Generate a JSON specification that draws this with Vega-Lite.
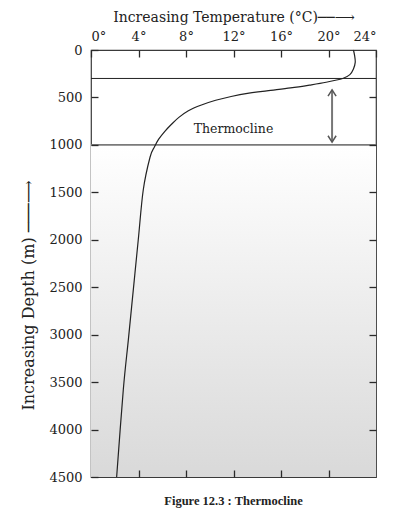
{
  "$schema": "https://vega.github.io/schema/vega-lite/v6.json",
  "width": 285,
  "height": 427,
  "autosize": {"type": "none"},
  "padding": {"left": 91, "top": 50, "right": 23, "bottom": 39},
  "background": "white",
  "config": {
    "view": {"stroke": "#3a3a3a", "strokeWidth": 1.2},
    "font": "DejaVu Serif",
    "axis": {"grid": false, "domain": false, "labelFont": "DejaVu Serif", "titleFont": "DejaVu Serif", "labelColor": "#222", "titleColor": "#222"}
  },
  "title": {"text": "Figure 12.3 : Thermocline", "orient": "bottom", "font": "Liberation Serif", "fontSize": 12.5, "fontWeight": "bold", "color": "#222", "offset": 11},
  "datasets": {
    "profile": [
      {"depth": 0, "temp": 22.1},
      {"depth": 60, "temp": 22.2},
      {"depth": 130, "temp": 22.25},
      {"depth": 200, "temp": 22.1},
      {"depth": 260, "temp": 21.8},
      {"depth": 300, "temp": 21.2},
      {"depth": 340, "temp": 19.8},
      {"depth": 370, "temp": 18.4},
      {"depth": 400, "temp": 16.8},
      {"depth": 430, "temp": 14.8},
      {"depth": 455, "temp": 13.3},
      {"depth": 490, "temp": 11.8},
      {"depth": 530, "temp": 10.5},
      {"depth": 580, "temp": 9.3},
      {"depth": 640, "temp": 8.2},
      {"depth": 710, "temp": 7.4},
      {"depth": 780, "temp": 6.8},
      {"depth": 860, "temp": 6.2},
      {"depth": 940, "temp": 5.7},
      {"depth": 1020, "temp": 5.35},
      {"depth": 1130, "temp": 4.97},
      {"depth": 1475, "temp": 4.4},
      {"depth": 2000, "temp": 3.98},
      {"depth": 2530, "temp": 3.56},
      {"depth": 3060, "temp": 3.14},
      {"depth": 3580, "temp": 2.72},
      {"depth": 4500, "temp": 2.16}
    ],
    "layers": [
      {"depth": 300, "kind": "mixed"},
      {"depth": 1000, "kind": "thermo"}
    ],
    "arrow": [
      {"temp": 20.3, "top": 420, "bottom": 970}
    ],
    "heads": [
      {"temp": 20.3, "depth": 420, "dir": "up"},
      {"temp": 20.3, "depth": 970, "dir": "down"}
    ],
    "label": [
      {"temp": 12, "depth": 830, "text": "Thermocline"}
    ],
    "deep": [
      {"top": 1000, "bottom": 4500}
    ]
  },
  "resolve": {"axis": {"x": "independent", "y": "independent"}},
  "layer": [
    {
      "data": {"name": "deep"},
      "mark": {"type": "rect", "color": {"gradient": "linear", "x1": 0, "y1": 0, "x2": 0, "y2": 1, "stops": [{"offset": 0, "color": "#ffffff"}, {"offset": 1, "color": "#d9d9d9"}]}},
      "encoding": {
        "y": {"field": "top", "type": "quantitative", "scale": {"domain": [0, 4500], "reverse": true, "nice": false}, "axis": null},
        "y2": {"field": "bottom"}
      }
    },
    {
      "data": {"name": "layers"},
      "mark": {"type": "rule"},
      "encoding": {
        "y": {"field": "depth", "type": "quantitative", "axis": null},
        "color": {"field": "kind", "type": "nominal", "scale": {"domain": ["mixed", "thermo"], "range": ["#222222", "#7a7a7a"]}, "legend": null},
        "strokeWidth": {"field": "kind", "type": "nominal", "scale": {"domain": ["mixed", "thermo"], "range": [1, 1.6]}, "legend": null}
      }
    },
    {
      "data": {"name": "profile"},
      "mark": {"type": "line", "color": "#222", "strokeWidth": 1.2, "interpolate": "cardinal"},
      "encoding": {
        "x": {"field": "temp", "type": "quantitative", "scale": {"domain": [0, 24], "nice": false},
          "axis": {"orient": "top", "zindex": 2, "tickColor": "#2a2a2a", "tickWidth": 1.3, "tickSize": -7, "values": [0, 4, 8, 12, 16, 20, 24], "labelExpr": "datum.value + '°'", "labelFontSize": 13, "labelPadding": 14, "title": "Increasing Temperature (°C)──⟶", "titleFontSize": 14, "titleFontWeight": "normal", "titlePadding": 6}},
        "y": {"field": "depth", "type": "quantitative",
          "axis": {"orient": "left", "zindex": 2, "tickColor": "#2a2a2a", "tickWidth": 1.3, "tickSize": -7, "values": [0, 500, 1000, 1500, 2000, 2500, 3000, 3500, 4000, 4500], "format": "d", "labelFontSize": 13, "labelPadding": 16, "title": "Increasing Depth (m) ───⟶", "titleFontSize": 16, "titleFontWeight": "normal", "titleAngle": -90, "titleX": -63, "titleY": 245, "titleBaseline": "middle", "titleAlign": "center"}},
        "order": {"field": "depth", "type": "quantitative"}
      }
    },
    {
      "data": {"name": "arrow"},
      "mark": {"type": "rule", "color": "#777", "strokeWidth": 2},
      "encoding": {
        "x": {"field": "temp", "type": "quantitative", "axis": {"orient": "bottom", "zindex": 2, "tickColor": "#2a2a2a", "tickWidth": 1.3, "tickSize": -7, "values": [4, 8, 12, 16, 20], "labels": false, "title": null}},
        "y": {"field": "top", "type": "quantitative", "axis": {"orient": "right", "zindex": 2, "tickColor": "#2a2a2a", "tickWidth": 1.3, "tickSize": -7, "values": [500, 1000, 1500, 2000, 2500, 3000, 3500, 4000], "labels": false, "title": null}},
        "y2": {"field": "bottom"}
      }
    },
    {
      "data": {"name": "heads"},
      "mark": {"type": "point", "filled": false, "color": "#555", "strokeWidth": 1.5, "size": 324, "opacity": 1},
      "encoding": {
        "x": {"field": "temp", "type": "quantitative", "axis": null},
        "y": {"field": "depth", "type": "quantitative", "axis": null},
        "shape": {"field": "dir", "type": "nominal", "scale": {"domain": ["up", "down"], "range": ["M -0.45 0.7 L 0 0 L 0.45 0.7", "M -0.45 -0.7 L 0 0 L 0.45 -0.7"]}, "legend": null}
      }
    },
    {
      "data": {"name": "label"},
      "mark": {"type": "text", "fontSize": 12.5, "font": "DejaVu Serif", "color": "#222"},
      "encoding": {
        "x": {"field": "temp", "type": "quantitative", "axis": null},
        "y": {"field": "depth", "type": "quantitative", "axis": null},
        "text": {"field": "text"}
      }
    }
  ]
}
